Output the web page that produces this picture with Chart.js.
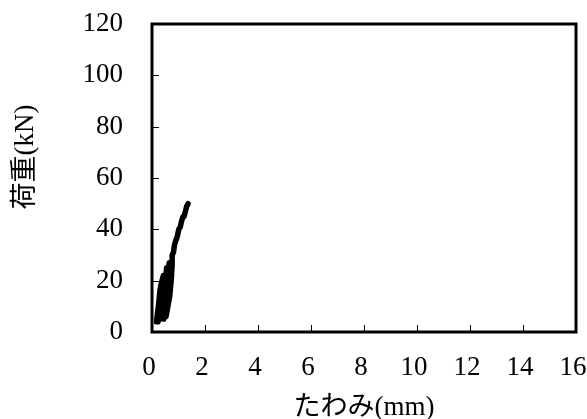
<!DOCTYPE html>
<html><head><meta charset="utf-8">
<script src="https://cdn.jsdelivr.net/npm/chart.js@4.4.0/dist/chart.umd.min.js"></script>
<style>html,body{margin:0;padding:0;background:#fff}#wrap{width:587px;height:419px}</style>
</head><body><div id="wrap"><canvas id="c" width="587" height="419"></canvas></div>
<script>
const deflection = [0.17,0.24,0.20,0.26,0.22,0.27,0.31,0.23,0.30,0.33,0.43,0.31,0.40,0.48,0.58,0.55,0.41,0.50,0.58,0.69,0.65,0.53,0.60,0.67,0.74,0.45,0.62,0.72,0.76,0.76,0.81,0.85,0.91,0.95,1.01,1.07,1.11,1.17,1.21,1.26,1.31,1.36];
const load       = [4,10,4,12,4,13,17,4,15,18,22,5,12,15,22,25,6,10,14,20,27,6,10,14,22,5,12,20,26,30,31,34,36,37,40,41,43,45,45,47,49,50];
const xTicks = [0,2,4,6,8,10,12,14,16];
const yTicks = [0,20,40,60,80,100,120];
const xTitle = 'たわみ(mm)';
const yTitle = '荷重(kN)';
const points = deflection.map((d,i)=>({x:d,y:load[i]}));
const serif = "'Liberation Serif','Times New Roman','Noto Sans CJK JP',serif";

const frame = {
  id:'frame',
  beforeDraw(chart){
    const x = chart.scales.x;
    const items = x.getLabelItems(chart.chartArea);
    if(!items._shifted){ items.forEach(it=>{it.options.translation[0]-=3;}); items._shifted=true; }
  },
  afterDatasetsDraw(chart){
    const {ctx, chartArea:a, scales:{x,y}} = chart;
    ctx.save();
    ctx.strokeStyle='#000';
    ctx.lineWidth=1;
    xTicks.forEach(v=>{const px=Math.round(x.getPixelForValue(v))+0.5;ctx.beginPath();ctx.moveTo(px,a.bottom);ctx.lineTo(px,a.bottom-7);ctx.stroke();});
    yTicks.forEach(v=>{const py=Math.round(y.getPixelForValue(v))+0.5;ctx.beginPath();ctx.moveTo(a.left,py);ctx.lineTo(a.left+7,py);ctx.stroke();});
    ctx.lineWidth=3;
    ctx.strokeRect(a.left,a.top,a.right-a.left,a.bottom-a.top);
    ctx.fillStyle='#000';
    ctx.font="27px "+serif;
    ctx.textAlign='center';ctx.textBaseline='middle';
    ctx.translate(26,157);ctx.rotate(-Math.PI/2);
    ctx.fillText(yTitle,0,0);
    ctx.restore();
  }
};

new Chart(document.getElementById('c'),{
  type:'scatter',
  data:{datasets:[{data:points,showLine:true,borderColor:'#000',backgroundColor:'#000',borderWidth:5.5,pointRadius:0,tension:0,borderJoinStyle:'round',borderCapStyle:'round'}]},
  options:{
    responsive:false,animation:false,
    layout:{padding:{top:24,right:0,left:0,bottom:0}},
    plugins:{legend:{display:false},tooltip:{enabled:false}},
    scales:{
      x:{type:'linear',min:0,max:16,
        afterBuildTicks(s){s.ticks=xTicks.map(v=>({value:v}));},
        afterFit(s){s.height=87;s.paddingLeft=0;s.paddingRight=11;},
        grid:{display:false,drawTicks:false},border:{display:false},
        ticks:{color:'#000',font:{family:serif,size:27},padding:20,maxRotation:0,autoSkip:false},
        title:{display:true,text:xTitle,color:'#000',font:{family:serif,size:27,lineHeight:0.82},padding:{top:0,bottom:0}}
      },
      y:{type:'linear',min:0,max:120,
        afterBuildTicks(s){s.ticks=yTicks.map(v=>({value:v}));},
        afterFit(s){s.width=152;s.paddingTop=0;s.paddingBottom=0;},
        grid:{display:false,drawTicks:false},border:{display:false},
        ticks:{color:'#000',font:{family:serif,size:27},padding:29,autoSkip:false},
        title:{display:false}
      }
    }
  },
  plugins:[frame]
});
</script></body></html>
